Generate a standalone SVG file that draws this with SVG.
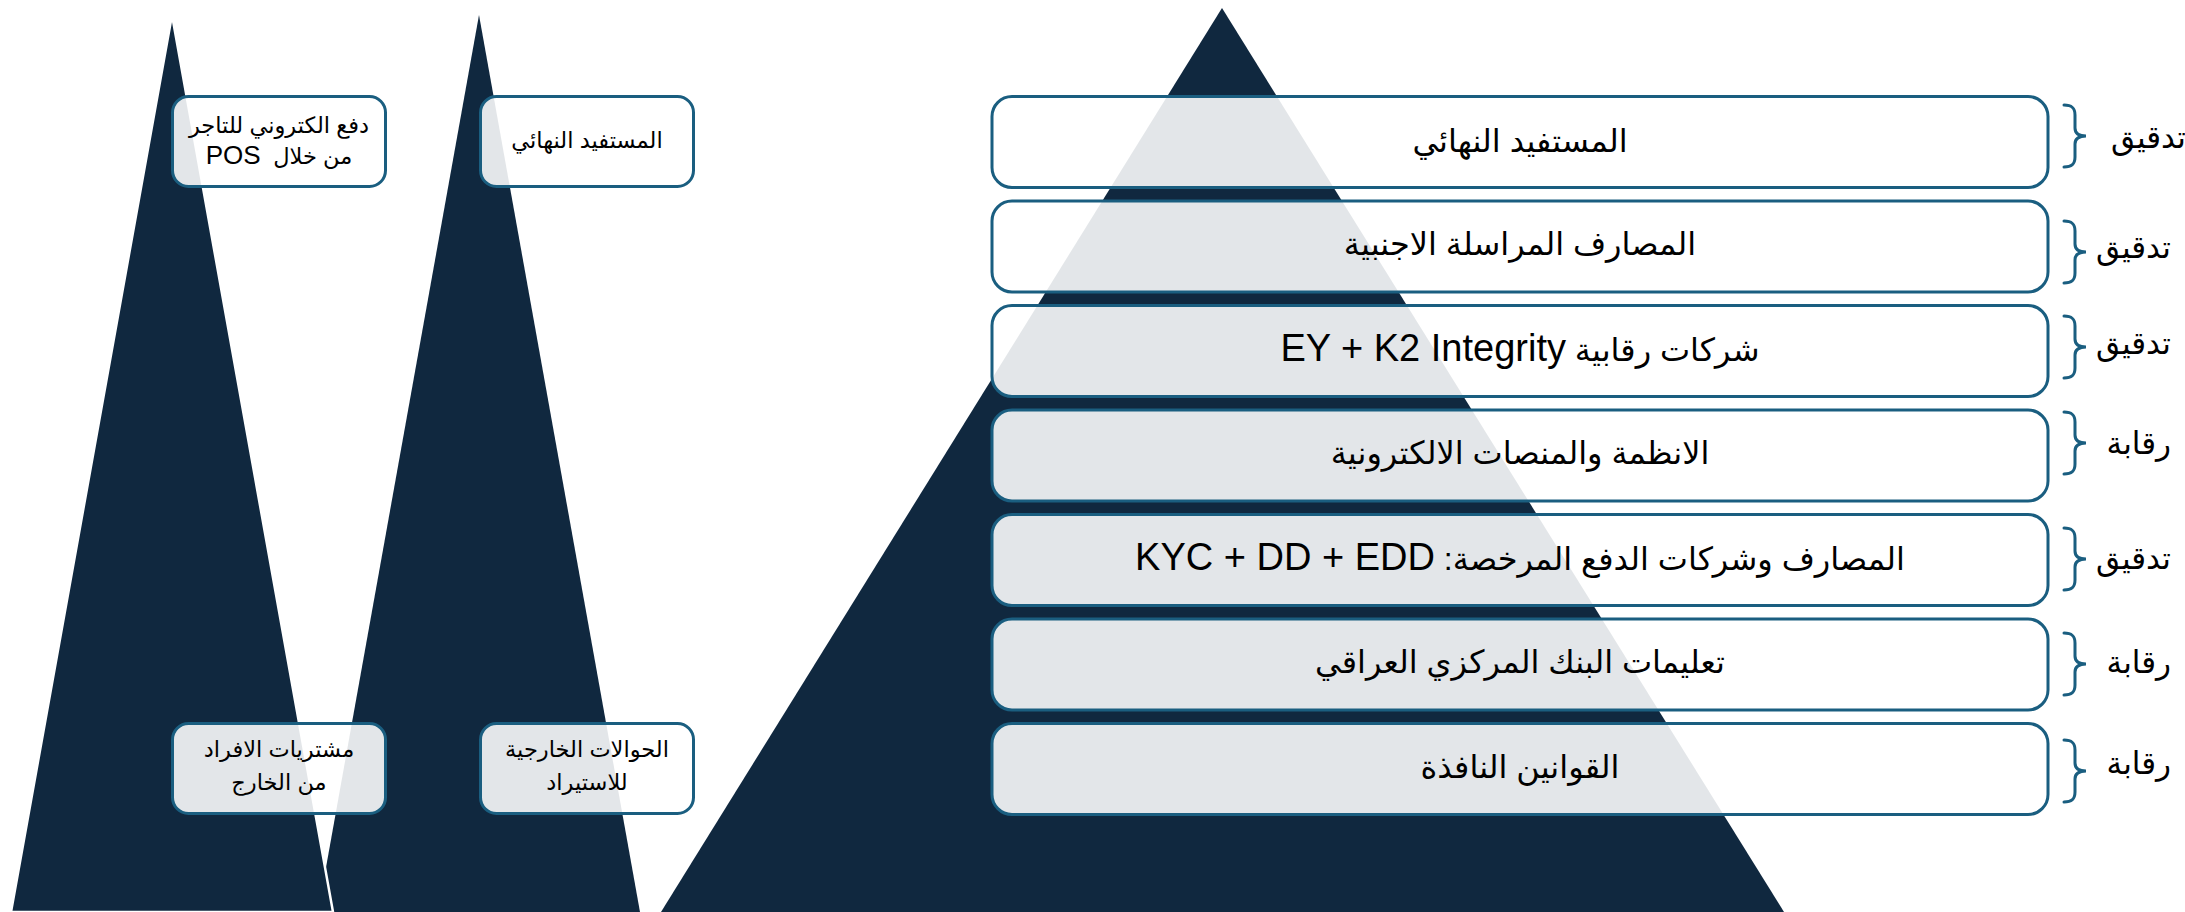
<svg xmlns="http://www.w3.org/2000/svg" width="2185" height="912" viewBox="0 0 2185 912">
<style>
.tri{fill:#10283f}
.box{fill:#fff;fill-opacity:0.885;stroke:#1a5e80;stroke-width:3}
.brace{fill:none;stroke:#1a5e80;stroke-width:3;stroke-linecap:round}
text{font-family:"Liberation Sans","DejaVu Sans",sans-serif;fill:#000;direction:rtl;unicode-bidi:embed}
.big{font-size:32px;text-anchor:middle}
.lat{font-family:"Liberation Sans",sans-serif;font-size:38px}
.sm{font-size:22.5px;text-anchor:middle}
.pos{font-size:26px}
.lbl{font-size:31px;text-anchor:start}
</style>
<rect width="2185" height="912" fill="#fff"/>
<g id="shapes">
<polygon id="tri2" class="tri" points="479,15 318,912 640,912"/>
<polygon id="tri1" class="tri" points="172,15 11,912 333,912" stroke="#fff" stroke-width="2.5"/>
<polygon id="tri3" class="tri" points="1222,8 661,912 1784,912"/>
</g>
<g id="small-boxes">
<g id="s1"><rect class="box" x="172.5" y="96.5" width="213" height="90" rx="16"/>
<text class="sm" x="279" y="133">دفع الكتروني للتاجر</text>
<text class="sm" x="279" y="164" xml:space="preserve">من خلال  <tspan class="pos">POS</tspan></text></g>
<g id="s2"><rect class="box" x="480.5" y="96.5" width="213" height="90" rx="16"/>
<text class="sm" x="587" y="148">المستفيد النهائي</text></g>
<g id="s3"><rect class="box" x="172.5" y="723.5" width="213" height="90" rx="16"/>
<text class="sm" x="279" y="757">مشتريات الافراد</text>
<text class="sm" x="279" y="790">من الخارج</text></g>
<g id="s4"><rect class="box" x="480.5" y="723.5" width="213" height="90" rx="16"/>
<text class="sm" x="587" y="757">الحوالات الخارجية</text>
<text class="sm" x="587" y="790">للاستيراد</text></g>
</g>
<g id="levels">
<g id="l1"><rect class="box" x="992" y="96.5" width="1056" height="91" rx="20"/><text class="big" x="1520" y="152">المستفيد النهائي</text></g>
<g id="l2"><rect class="box" x="992" y="201" width="1056" height="91" rx="20"/><text class="big" x="1520" y="255">المصارف المراسلة الاجنبية</text></g>
<g id="l3"><rect class="box" x="992" y="305.5" width="1056" height="91" rx="20"/><text class="big" x="1520" y="361">شركات رقابية <tspan class="lat">EY + K2 Integrity</tspan></text></g>
<g id="l4"><rect class="box" x="992" y="410" width="1056" height="91" rx="20"/><text class="big" x="1520" y="464">الانظمة والمنصات الالكترونية</text></g>
<g id="l5"><rect class="box" x="992" y="514.5" width="1056" height="91" rx="20"/><text class="big" x="1520" y="570">المصارف وشركات الدفع المرخصة: <tspan class="lat">KYC + DD + EDD</tspan></text></g>
<g id="l6"><rect class="box" x="992" y="619" width="1056" height="91" rx="20"/><text class="big" x="1520" y="673">تعليمات البنك المركزي العراقي</text></g>
<g id="l7"><rect class="box" x="992" y="723.5" width="1056" height="91" rx="20"/><text class="big" x="1520" y="778">القوانين النافذة</text></g>
</g>
<g id="connectors">
<path class="brace" d="M2064,105 C2072,105 2075,108 2075,115 L2075,128 C2075,133 2078,136 2086,136 C2078,136 2075,139 2075,144 L2075,157 C2075,164 2072,167 2064,167"/>
<path class="brace" d="M2064,221 C2072,221 2075,224 2075,231 L2075,244 C2075,249 2078,252 2086,252 C2078,252 2075,255 2075,260 L2075,273 C2075,280 2072,283 2064,283"/>
<path class="brace" d="M2064,316 C2072,316 2075,319 2075,326 L2075,339 C2075,344 2078,347 2086,347 C2078,347 2075,350 2075,355 L2075,368 C2075,375 2072,378 2064,378"/>
<path class="brace" d="M2064,412 C2072,412 2075,415 2075,422 L2075,435 C2075,440 2078,443 2086,443 C2078,443 2075,446 2075,451 L2075,464 C2075,471 2072,474 2064,474"/>
<path class="brace" d="M2064,528 C2072,528 2075,531 2075,538 L2075,551 C2075,556 2078,559 2086,559 C2078,559 2075,562 2075,567 L2075,580 C2075,587 2072,590 2064,590"/>
<path class="brace" d="M2064,633 C2072,633 2075,636 2075,643 L2075,656 C2075,661 2078,664 2086,664 C2078,664 2075,667 2075,672 L2075,685 C2075,692 2072,695 2064,695"/>
<path class="brace" d="M2064,740 C2072,740 2075,743 2075,750 L2075,763 C2075,768 2078,771 2086,771 C2078,771 2075,774 2075,779 L2075,792 C2075,799 2072,802 2064,802"/>
</g>
<g id="labels">
<text class="lbl" x="2186" y="148">تدقيق</text>
<text class="lbl" x="2171" y="258">تدقيق</text>
<text class="lbl" x="2171" y="354">تدقيق</text>
<text class="lbl" x="2171" y="454">رقابة</text>
<text class="lbl" x="2171" y="569">تدقيق</text>
<text class="lbl" x="2171" y="673">رقابة</text>
<text class="lbl" x="2171" y="774">رقابة</text>
</g>
</svg>
